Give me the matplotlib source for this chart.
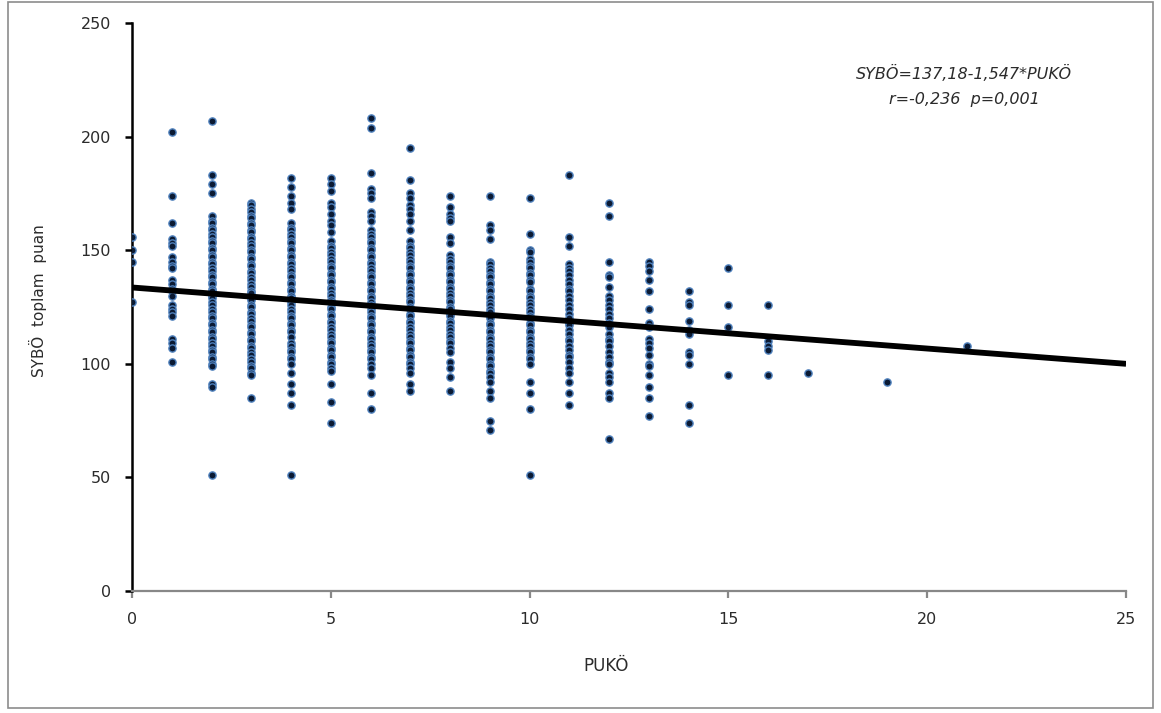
import matplotlib.pyplot as plt
from matplotlib.patches import Rectangle

# SYBO total score values for each PUKO score
y_p0 = [156, 150, 145, 127]
y_p1 = [202, 174, 162, 155, 153, 152, 147, 145, 143, 142, 137, 135, 133, 132, 130,
        126, 124, 123, 121, 111, 109, 107, 101]
y_p2 = [207, 183, 179, 175, 165, 163, 162, 160, 159, 157, 156, 154, 153, 151, 150,
        148, 147, 145, 144, 142, 141, 139, 138, 136, 135, 133, 132, 130, 129, 127,
        126, 124, 123, 121, 120, 118, 117, 115, 114, 112, 111, 109, 108, 106, 105,
        103, 102, 100, 99, 91, 90, 51]
y_p3 = [171, 170, 168, 167, 165, 164, 162, 161, 159, 158, 156, 155, 153, 152, 150,
        149, 147, 146, 144, 143, 141, 140, 138, 137, 135, 134, 132, 131, 129, 128,
        126, 125, 123, 122, 120, 119, 117, 116, 114, 113, 111, 110, 108, 107, 105,
        104, 102, 101, 99, 98, 96, 95, 85]
y_p4 = [182, 178, 174, 171, 168, 162, 160, 159, 157, 156, 154, 153, 151, 150, 148,
        147, 145, 144, 142, 141, 139, 138, 136, 135, 133, 132, 130, 129, 127, 126,
        124, 123, 121, 120, 118, 117, 115, 114, 112, 109, 108, 106, 105, 103, 102,
        100, 96, 91, 87, 82, 51]
y_p5 = [182, 179, 176, 171, 169, 166, 163, 161, 158, 154, 152, 151, 149, 148, 146,
        145, 143, 142, 140, 139, 137, 136, 134, 133, 131, 130, 128, 127, 125, 124,
        122, 121, 119, 118, 116, 115, 113, 112, 110, 109, 107, 106, 104, 103, 101,
        100, 98, 97, 91, 83, 74]
y_p6 = [208, 204, 184, 177, 175, 173, 167, 165, 163, 159, 157, 156, 154, 153, 151,
        150, 148, 147, 145, 144, 142, 141, 139, 138, 136, 135, 133, 132, 130, 129,
        127, 126, 124, 123, 121, 120, 118, 117, 115, 114, 112, 111, 109, 108, 106,
        105, 103, 102, 100, 98, 95, 87, 80]
y_p7 = [195, 181, 175, 173, 170, 168, 166, 163, 159, 154, 152, 151, 149, 148, 146,
        145, 143, 142, 140, 139, 137, 136, 134, 133, 131, 130, 128, 127, 125, 124,
        122, 121, 119, 118, 116, 115, 113, 112, 110, 109, 107, 106, 104, 103, 101,
        100, 98, 96, 91, 88]
y_p8 = [174, 169, 166, 164, 163, 156, 153, 148, 146, 145, 143, 142, 140, 139, 137,
        136, 134, 133, 131, 130, 128, 127, 125, 124, 122, 121, 119, 118, 116, 115,
        113, 112, 110, 109, 107, 105, 101, 98, 94, 88]
y_p9 = [174, 161, 159, 155, 145, 144, 142, 141, 139, 138, 136, 135, 133, 132, 130,
        129, 127, 126, 124, 123, 121, 120, 118, 117, 115, 114, 112, 111, 109, 108,
        106, 105, 103, 102, 100, 99, 97, 96, 94, 92, 88, 85, 75, 71]
y_p10 = [173, 157, 150, 149, 146, 145, 143, 142, 140, 139, 137, 136, 133, 132, 130,
         129, 127, 126, 124, 123, 121, 120, 118, 117, 115, 114, 112, 111, 109, 108,
         106, 105, 103, 102, 100, 92, 87, 80, 51]
y_p11 = [183, 156, 152, 144, 142, 141, 139, 137, 135, 133, 132, 130, 128, 126, 124,
         122, 120, 118, 117, 115, 113, 111, 110, 108, 106, 104, 103, 101, 98, 96,
         92, 87, 82]
y_p12 = [171, 165, 145, 139, 138, 134, 130, 128, 126, 124, 122, 120, 118, 116, 113,
         111, 110, 108, 105, 103, 101, 100, 96, 94, 92, 87, 85, 67]
y_p13 = [145, 143, 141, 137, 132, 124, 118, 116, 111, 109, 107, 104, 100, 99, 95,
         90, 85, 77]
y_p14 = [132, 127, 126, 119, 115, 113, 105, 104, 100, 82, 74]
y_p15 = [142, 126, 116, 95]
y_p16 = [126, 110, 108, 106, 95]
y_p17 = [96]
y_p19 = [92]
y_p21 = [108]

pukoe_values = [0, 1, 2, 3, 4, 5, 6, 7, 8, 9, 10, 11, 12, 13, 14, 15, 16, 17, 19, 21]
sybo_columns = [y_p0, y_p1, y_p2, y_p3, y_p4, y_p5, y_p6, y_p7, y_p8, y_p9, y_p10,
                y_p11, y_p12, y_p13, y_p14, y_p15, y_p16, y_p17, y_p19, y_p21]

# regression line as drawn
fit_x = [0, 25]
fit_y = [133.6, 100.0]

x_ticks = [0, 5, 10, 15, 20, 25]
y_ticks = [0, 50, 100, 150, 200, 250]

plt.rcParams['font.family'] = ['DejaVu Sans']
textColor = '#2b2b2b'

fig = plt.figure(figsize=(11.61, 7.13), dpi=100)
fig.patches.append(Rectangle((0.0065, 0.007), 0.987, 0.99, transform=fig.transFigure,
                             fill=False, edgecolor='#8c8c8c', linewidth=1.2))
ax = fig.add_axes([0.1137, 0.1711, 0.8562, 0.7966])

xs = []
ys = []
for xv, col in zip(pukoe_values, sybo_columns):
  xs += [xv]*len(col)
  ys += col
ax.scatter(xs, ys, s=27, facecolor='#0b1a33', edgecolor='#4f81bd', linewidths=1.0, zorder=3)
ax.plot(fit_x, fit_y, color='black', linewidth=4.2, solid_capstyle='butt', zorder=4)

ax.set_xlim(0, 25)
ax.set_ylim(0, 250)
ax.set_xticks(x_ticks)
ax.set_yticks(y_ticks)
ax.spines['top'].set_visible(False)
ax.spines['right'].set_visible(False)
ax.spines['left'].set_color('black')
ax.spines['left'].set_linewidth(1.8)
ax.spines['bottom'].set_color('#888888')
ax.spines['bottom'].set_linewidth(1.6)
ax.tick_params(axis='y', colors='black', length=5, width=1.8, labelsize=11.5, labelcolor=textColor, pad=10)
ax.tick_params(axis='x', colors='#888888', length=5, width=1.6, labelsize=11.5, labelcolor=textColor, pad=10)

ax.set_xlabel('PUKÖ', fontsize=12, color=textColor)
ax.xaxis.set_label_coords(0.477, -0.116)
ax.set_ylabel('SYBÖ  toplam  puan', fontsize=11, color=textColor)
ax.yaxis.set_label_coords(-0.086, 0.512)

ax.text(0.837, 0.912, 'SYBÖ=137,18-1,547*PUKÖ', transform=ax.transAxes, fontsize=11.5,
        style='italic', color=textColor, ha='center', va='center')
ax.text(0.837, 0.866, 'r=-0,236  p=0,001', transform=ax.transAxes, fontsize=11.5,
        style='italic', color=textColor, ha='center', va='center')

fig.savefig('out.png', dpi=100)
